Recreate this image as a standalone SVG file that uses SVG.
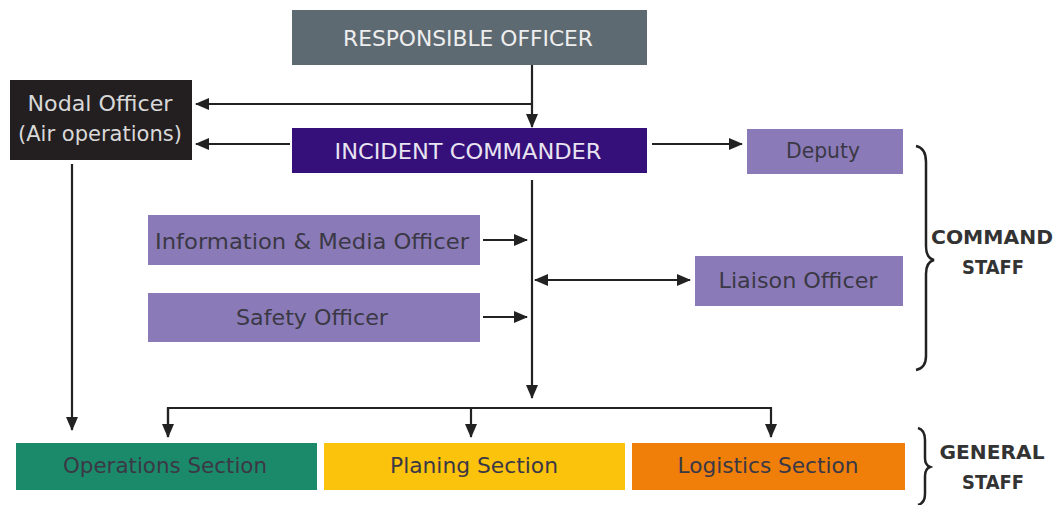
<svg xmlns="http://www.w3.org/2000/svg" width="1056" height="505" viewBox="0 0 1056 505">
<style>
.t{font-family:"DejaVu Sans","Liberation Sans",sans-serif;font-size:21px;text-anchor:middle;dominant-baseline:central}
.dk{fill:#3b3845}
.lt{fill:#eeeeee}
.pb{fill:#8a7bb8}
.ln{stroke:#222;stroke-width:2.2;fill:none}
.lbl{font-family:"DejaVu Sans","Liberation Sans",sans-serif;font-size:19px;font-weight:bold;fill:#333;text-anchor:middle}
</style>
<defs>
<marker id="ah" markerWidth="14" markerHeight="14" refX="13" refY="7" orient="auto" markerUnits="userSpaceOnUse">
<path d="M0,1 L14,7 L0,13 z" fill="#222"/>
</marker>
<marker id="as" markerWidth="14" markerHeight="14" refX="1" refY="7" orient="auto" markerUnits="userSpaceOnUse">
<path d="M14,1 L0,7 L14,13 z" fill="#222"/>
</marker>
</defs>
<rect width="1056" height="505" fill="#ffffff"/>
<g id="connectors">
<line class="ln" x1="532" y1="64" x2="532" y2="127" marker-end="url(#ah)"/>
<line class="ln" x1="532" y1="104" x2="196" y2="104" marker-end="url(#ah)"/>
<line class="ln" x1="290" y1="144" x2="196" y2="144" marker-end="url(#ah)"/>
<line class="ln" x1="652" y1="144" x2="742" y2="144" marker-end="url(#ah)"/>
<line class="ln" x1="532" y1="180" x2="532" y2="398" marker-end="url(#ah)"/>
<line class="ln" x1="483" y1="240" x2="527" y2="240" marker-end="url(#ah)"/>
<line class="ln" x1="483" y1="317" x2="527" y2="317" marker-end="url(#ah)"/>
<line class="ln" x1="535" y1="280" x2="690" y2="280" marker-start="url(#as)" marker-end="url(#ah)"/>
<line class="ln" x1="72" y1="164" x2="72" y2="430" marker-end="url(#ah)"/>
<polyline class="ln" points="168,437 168,408 771,408 771,437" marker-end="url(#ah)"/>
<line class="ln" x1="168" y1="408" x2="168" y2="437" marker-end="url(#ah)"/>
<line class="ln" x1="471" y1="408" x2="471" y2="437" marker-end="url(#ah)"/>
</g>
<g id="responsible">
<rect x="292" y="10" width="355" height="55" fill="#5e6a72"/>
<text class="t lt" x="468" y="39" textLength="250" lengthAdjust="spacingAndGlyphs">RESPONSIBLE OFFICER</text>
</g>
<g id="nodal">
<rect x="10" y="80" width="182" height="80" fill="#231f20"/>
<text class="t" x="100" y="104" fill="#d9d9d9" textLength="145" lengthAdjust="spacingAndGlyphs">Nodal Officer</text>
<text class="t" x="100" y="134" fill="#d9d9d9" textLength="164" lengthAdjust="spacingAndGlyphs">(Air operations)</text>
</g>
<g id="incident">
<rect x="292" y="128" width="355" height="45" fill="#36107a"/>
<text class="t" x="468" y="152" fill="#e8e4f2" textLength="267" lengthAdjust="spacingAndGlyphs">INCIDENT COMMANDER</text>
</g>
<g id="deputy">
<rect class="pb" x="747" y="129" width="156" height="45"/>
<text class="t dk" x="823" y="151" textLength="74" lengthAdjust="spacingAndGlyphs">Deputy</text>
</g>
<g id="info">
<rect class="pb" x="148" y="215" width="332" height="50"/>
<text class="t dk" x="312" y="242" textLength="314" lengthAdjust="spacingAndGlyphs">Information &amp; Media Officer</text>
</g>
<g id="safety">
<rect class="pb" x="148" y="293" width="332" height="49"/>
<text class="t dk" x="312" y="318" textLength="152" lengthAdjust="spacingAndGlyphs">Safety Officer</text>
</g>
<g id="liaison">
<rect class="pb" x="695" y="256" width="208" height="50"/>
<text class="t dk" x="798" y="281" textLength="159" lengthAdjust="spacingAndGlyphs">Liaison Officer</text>
</g>
<g id="operations">
<rect x="16" y="443" width="301" height="47" fill="#1b8a6b"/>
<text class="t dk" x="165" y="466" textLength="204" lengthAdjust="spacingAndGlyphs">Operations Section</text>
</g>
<g id="planning">
<rect x="324" y="443" width="301" height="47" fill="#fcc30c"/>
<text class="t dk" x="474" y="466" textLength="168" lengthAdjust="spacingAndGlyphs">Planing Section</text>
</g>
<g id="logistics">
<rect x="632" y="443" width="273" height="47" fill="#f07f0a"/>
<text class="t dk" x="768" y="466" textLength="181" lengthAdjust="spacingAndGlyphs">Logistics Section</text>
</g>
<g id="command-staff">
<path d="M916,146 Q926,148 926,162 L926,246 Q926,258 934,260 Q926,262 926,274 L926,356 Q926,368 916,370" stroke="#222" stroke-width="2.5" fill="none"/>
<text class="lbl" x="992" y="244" textLength="122" lengthAdjust="spacingAndGlyphs">COMMAND</text>
<text class="lbl" x="993" y="274" textLength="62" lengthAdjust="spacingAndGlyphs">STAFF</text>
</g>
<g id="general-staff">
<path d="M918,428 Q925,430 925,440 L925,458 Q925,465 930,467 Q925,469 925,476 L925,494 Q925,503 918,505" stroke="#222" stroke-width="2.5" fill="none"/>
<text class="lbl" x="992" y="459" textLength="105" lengthAdjust="spacingAndGlyphs">GENERAL</text>
<text class="lbl" x="993" y="489" textLength="62" lengthAdjust="spacingAndGlyphs">STAFF</text>
</g>
</svg>
